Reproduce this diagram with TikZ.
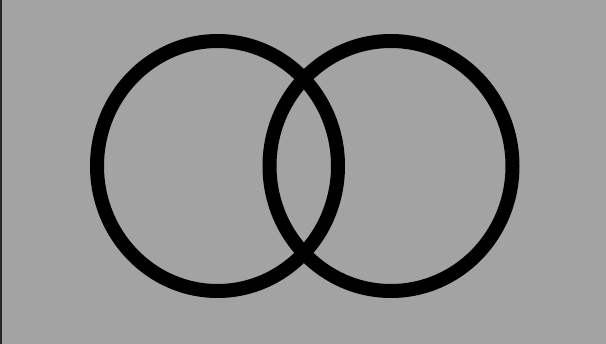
\documentclass[tikz,border=0pt]{standalone}
\begin{document}
\begin{tikzpicture}[x=1pt,y=-1pt,
  ring/.style={draw=black,line width=14pt}]
\useasboundingbox (0,0) rectangle (606,344);
\fill[black!36] (0,0) rectangle (606,344);
\draw[black!85,line width=1.2pt] (1,0) -- (1,344);
\coordinate (cl) at (217.5,166);
\coordinate (cr) at (391,166);
\draw[ring] (cl) ellipse [x radius=120.5, y radius=125];
\draw[ring] (cr) ellipse [x radius=121.5, y radius=125];
\end{tikzpicture}
\end{document}
